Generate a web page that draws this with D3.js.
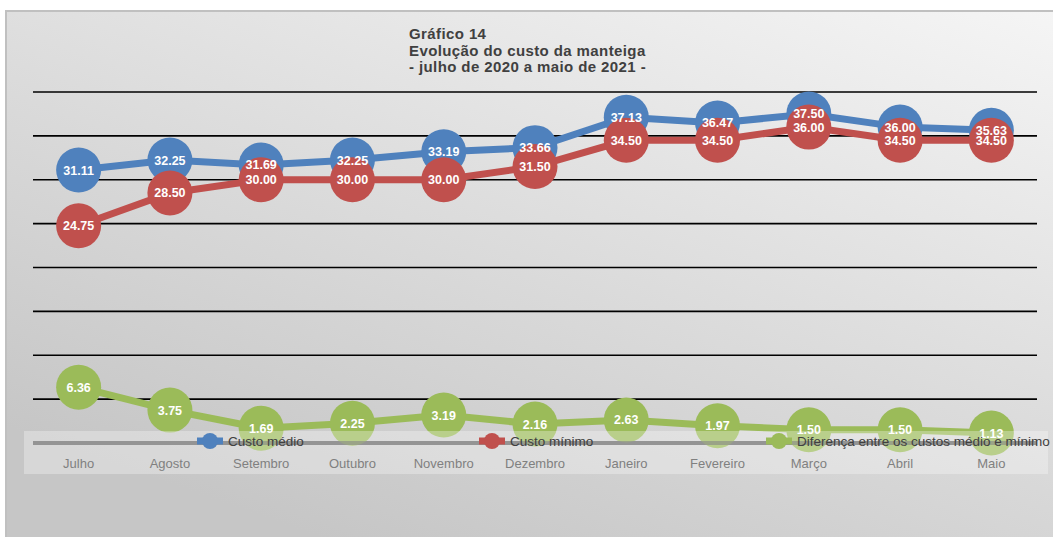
<!DOCTYPE html>
<html>
<head>
<meta charset="utf-8">
<script src="https://cdn.jsdelivr.net/npm/d3@7"></script>
<style>
  body { margin: 0; background: #fff; }
  svg { display: block; font-family: "Liberation Sans", Arial, sans-serif; }
</style>
</head>
<body>
<div id="chart"></div>
<script>
const months = ["Julho", "Agosto", "Setembro", "Outubro", "Novembro", "Dezembro", "Janeiro", "Fevereiro", "Março", "Abril", "Maio"];
const custoMedio = [31.11, 32.25, 31.69, 32.25, 33.19, 33.66, 37.13, 36.47, 37.50, 36.00, 35.63];
const custoMinimo = [24.75, 28.50, 30.00, 30.00, 30.00, 31.50, 34.50, 34.50, 36.00, 34.50, 34.50];
const diferenca = [6.36, 3.75, 1.69, 2.25, 3.19, 2.16, 2.63, 1.97, 1.50, 1.50, 1.13];
const yTicks = [0, 5, 10, 15, 20, 25, 30, 35, 40];
const titleLines = ["Gráfico 14", "Evolução do custo da manteiga", "- julho de 2020 a maio de 2021 -"];
const seriesNames = ["Custo médio", "Custo mínimo", "Diferença entre os custos médio e mínimo"];
const colors = ["#4f81bd", "#c0504d", "#9bbb59"];

const W = 1053, H = 537;
const svg = d3.select("#chart").append("svg").attr("width", W).attr("height", H);

// background gradient
const grad = svg.append("defs").append("linearGradient")
    .attr("id", "bg").attr("x1", "100%").attr("y1", "0%").attr("x2", "30%").attr("y2", "100%");
grad.append("stop").attr("offset", "0%").attr("stop-color", "#f5f5f5");
grad.append("stop").attr("offset", "100%").attr("stop-color", "#c6c6c6");

svg.append("rect").attr("x", 5).attr("y", 10).attr("width", W - 5).attr("height", H - 10)
    .attr("fill", "url(#bg)");
svg.append("path").attr("d", `M6,${H} V11 H${W}`)
    .attr("fill", "none").attr("stroke", "#c0c0c0").attr("stroke-width", 2);

// title
const title = svg.append("text").attr("x", 409).attr("y", 39)
    .attr("font-size", 15).attr("font-weight", "bold").attr("fill", "#404040")
    .attr("letter-spacing", 0.4);
titleLines.forEach((t, i) => {
    title.append("tspan").attr("x", 409).attr("y", 39 + i * 16.5).text(t);
});

const x = d3.scaleBand().domain(months).range([33, 1037]);
const y = d3.scaleLinear().domain([0, 40]).range([443, 92]);
const cx = m => x(m) + x.bandwidth() / 2;

// gridlines
svg.append("g").selectAll("line").data(yTicks.filter(d => d > 0)).join("line")
    .attr("x1", 33).attr("x2", 1037)
    .attr("y1", d => y(d)).attr("y2", d => y(d))
    .attr("stroke", "#000").attr("stroke-width", 1.6);

// category axis line
svg.append("line").attr("x1", 33).attr("x2", 1037).attr("y1", y(0)).attr("y2", y(0))
    .attr("stroke", "#868686").attr("stroke-width", 4);

const series = [custoMedio, custoMinimo, diferenca];
const line = d3.line().x((d, i) => cx(months[i])).y(d => y(d));

series.forEach((vals, s) => {
    const g = svg.append("g");
    g.append("path").datum(vals).attr("d", line)
        .attr("fill", "none").attr("stroke", colors[s]).attr("stroke-width", 7);
    g.selectAll("circle").data(vals).join("circle")
        .attr("cx", (d, i) => cx(months[i])).attr("cy", d => y(d)).attr("r", 22.5)
        .attr("fill", colors[s]);
});

// legend band (overlays plot)
svg.append("rect").attr("x", 24).attr("y", 431).attr("width", 1024).attr("height", 43)
    .attr("fill", "#ffffff").attr("opacity", 0.3);
svg.append("line").attr("x1", 33).attr("x2", 1037).attr("y1", y(0)).attr("y2", y(0))
    .attr("stroke", "#868686").attr("stroke-width", 4).attr("opacity", 0.6);

// data labels
series.forEach((vals, s) => {
    svg.append("g").selectAll("text").data(vals).join("text")
        .attr("x", (d, i) => cx(months[i])).attr("y", d => y(d)).attr("dy", "0.36em")
        .attr("text-anchor", "middle").attr("font-size", 12.5).attr("font-weight", "bold")
        .attr("fill", "#fff").text(d => d.toFixed(2));
});

// category labels
svg.append("g").selectAll("text").data(months).join("text")
    .attr("x", d => cx(d)).attr("y", 468).attr("text-anchor", "middle")
    .attr("font-size", 13).attr("fill", "#808080").text(d => d);

// legend entries
const legendX = [197, 479, 766];
seriesNames.forEach((name, i) => {
    const g = svg.append("g").attr("transform", `translate(${legendX[i]},441)`);
    g.append("line").attr("x1", 0).attr("x2", 26).attr("stroke", colors[i]).attr("stroke-width", 7);
    g.append("circle").attr("cx", 13).attr("r", 8).attr("fill", colors[i]);
    g.append("text").attr("x", 31).attr("y", 5).attr("font-size", 13.5)
        .attr("fill", "#404040").text(name);
});
</script>
</body>
</html>
